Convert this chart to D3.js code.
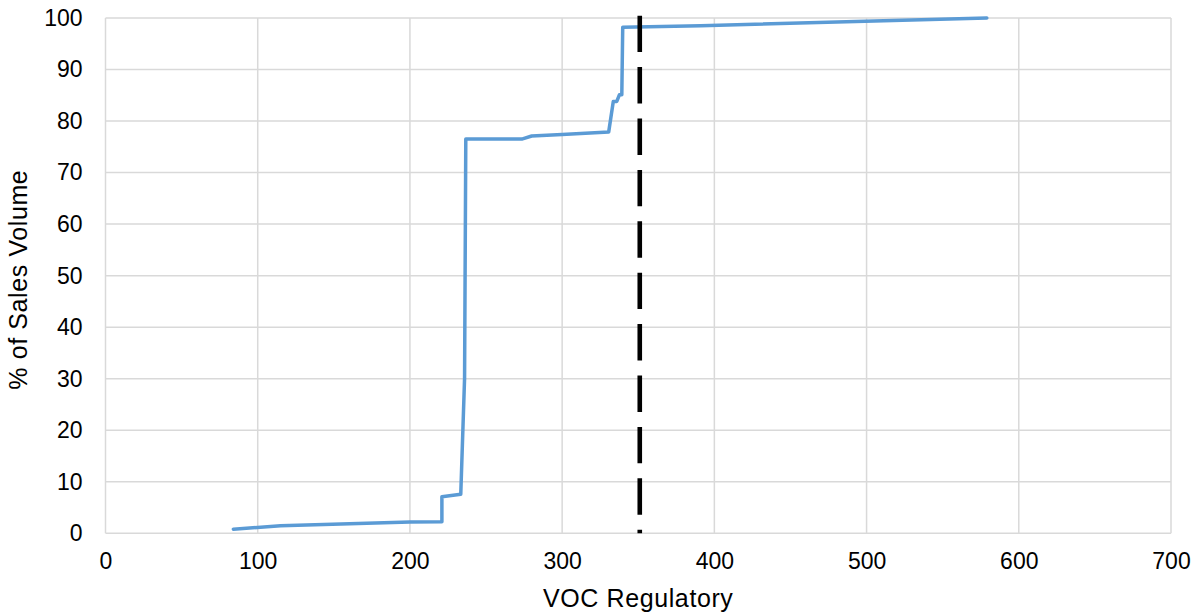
<!DOCTYPE html>
<html><head><meta charset="utf-8">
<script src="https://cdn.jsdelivr.net/npm/d3@7"></script>
<style>body{margin:0;background:#fff}svg{display:block}text{font-family:"Liberation Sans",Arial,sans-serif;fill:#000}</style>
</head><body><svg id="c" width="1203" height="615"></svg>
<script>
const voc = [84, 115, 200, 221, 221, 233.4, 235.9, 236.7, 273.5, 280, 300, 330.6, 333.6, 335.9, 337.6, 339.2, 339.8, 391, 579];
const pct = [0.8, 1.45, 2.2, 2.25, 7.1, 7.57, 30.1, 76.5, 76.5, 77.1, 77.4, 77.9, 83.8, 83.8, 85.1, 85.1, 98.2, 98.5, 100];
const xTicks = [0, 100, 200, 300, 400, 500, 600, 700];
const yTicks = [0, 10, 20, 30, 40, 50, 60, 70, 80, 90, 100];
const limitX = 351;
const xTitle = "VOC Regulatory";
const yTitle = "% of Sales Volume";

const svg = d3.select("#c");
const x = d3.scaleLinear().domain([0, 700]).range([105.5, 1171]);
const y = d3.scaleLinear().domain([0, 100]).range([533.3, 18]);

const grid = svg.append("g");
grid.selectAll(".v").data(xTicks).join("line")
  .attr("x1", d => x(d)).attr("x2", d => x(d)).attr("y1", y(0)).attr("y2", y(100))
  .attr("stroke", "#d9d9d9").attr("stroke-width", 1.5);
grid.selectAll(".h").data(yTicks).join("line")
  .attr("x1", x(0)).attr("x2", x(700)).attr("y1", d => y(d)).attr("y2", d => y(d))
  .attr("stroke", "#d9d9d9").attr("stroke-width", 1.5);

const xAxis = svg.append("g").attr("transform", `translate(0,${y(0)})`)
  .call(d3.axisBottom(x).tickValues(xTicks).tickSize(0).tickPadding(24).tickFormat(d3.format("d")));
const yAxis = svg.append("g").attr("transform", `translate(${x(0)},0)`)
  .call(d3.axisLeft(y).tickValues(yTicks).tickSize(0).tickPadding(23).tickFormat(d3.format("d")));
[xAxis, yAxis].forEach(a => {
  a.select(".domain").remove();
  a.selectAll("text").style("font-size", "23px").attr("fill", "#000")
   .style("font-family", '"Liberation Sans", Arial, sans-serif');
});
xAxis.selectAll("text").attr("dy", "0.5em");

const line = d3.line().x((d, i) => x(voc[i])).y((d, i) => y(pct[i]));
svg.append("path").datum(pct).attr("d", line)
  .attr("fill", "none").attr("stroke", "#5b9bd5").attr("stroke-width", 3.5)
  .attr("stroke-linejoin", "round").attr("stroke-linecap", "round");

svg.append("line").attr("x1", x(limitX)).attr("x2", x(limitX))
  .attr("y1", 15.7).attr("y2", y(0))
  .attr("stroke", "#000").attr("stroke-width", 4.6).attr("stroke-dasharray", "36.4,15");

svg.append("text").attr("x", (x(0) + x(700)) / 2).attr("y", 606.5)
  .attr("text-anchor", "middle").style("font-size", "25px").style("letter-spacing", "0.6px").text(xTitle);
svg.append("text").attr("transform", `translate(26.5,${(y(0) + y(100)) / 2 + 4}) rotate(-90)`)
  .attr("text-anchor", "middle").style("font-size", "25px").style("letter-spacing", "0.6px").text(yTitle);
</script></body></html>
